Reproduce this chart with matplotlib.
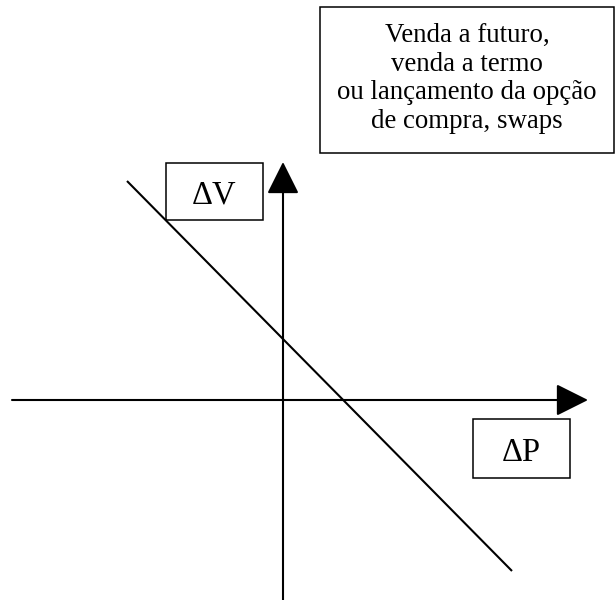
import matplotlib
matplotlib.use("Agg")
import matplotlib.pyplot as plt
from matplotlib.patches import Rectangle

plt.rcParams["font.family"] = ["Liberation Serif", "DejaVu Serif"]

# diagram coordinates: origin where the two axes cross
X_RANGE = (-283, 333)
Y_RANGE = (-200, 400)

# axes (start, tip)
H_AXIS = ([-271, 0], [305, 0])
V_AXIS = ([0, -200], [0, 238])

# payoff line of the short position (ΔV falls as ΔP rises)
LINE_DP = [-156, 229]
LINE_DV = [219, -171]

# label boxes: (x0, y0, width, height)
BOX_NOTE = (37, 247, 294, 146)
NOTE_LINES = ["Venda a futuro,", "venda a termo",
              "ou lançamento da opção", "de compra, swaps"]
BOX_DV = (-117, 180, 97, 57)
BOX_DP = (190, -78, 97, 59)
LABEL_DV = "ΔV"
LABEL_DP = "ΔP"

fig = plt.figure(figsize=(6.16, 6.0), dpi=100)
ax = fig.add_axes([0, 0, 1, 1])
ax.set_xlim(*X_RANGE)
ax.set_ylim(*Y_RANGE)
ax.axis("off")

arrow = dict(arrowstyle="-|>,head_length=1.0,head_width=0.5", mutation_scale=20,
             lw=1.5, color="black", shrinkA=0, shrinkB=0)
for start, tip in (H_AXIS, V_AXIS):
    ax.annotate("", xy=tip, xytext=start, arrowprops=arrow)

ax.plot(LINE_DP, LINE_DV, color="black", lw=1.5, solid_capstyle="butt")

for x0, y0, w, h in (BOX_NOTE, BOX_DV, BOX_DP):
    ax.add_patch(Rectangle((x0, y0), w, h, fill=False, ec="black", lw=1.1))

# note text, one baseline per line
x0, y0, w, h = BOX_NOTE
for i, line in enumerate(NOTE_LINES):
    ax.text(x0 + w / 2, 358 - i * 28.7, line, ha="center", va="baseline", fontsize=19.4)

# delta labels
for (x0, y0, w, h), txt in ((BOX_DV, LABEL_DV), (BOX_DP, LABEL_DP)):
    ax.text(x0 + w / 2, y0 + 17, txt, ha="center", va="baseline", fontsize=23.5)

fig.savefig("out.png", dpi=100, facecolor="white")
